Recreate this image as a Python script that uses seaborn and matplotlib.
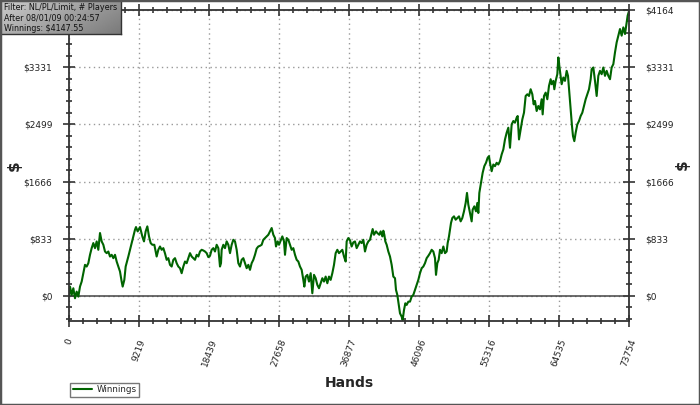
import numpy as np
import pandas as pd
import matplotlib
matplotlib.use("Agg")
import matplotlib.pyplot as plt
import seaborn as sns
from matplotlib.ticker import MultipleLocator, FixedLocator, FixedFormatter
from matplotlib.patches import Rectangle

# cumulative winnings (hands, dollars)
hands = [0, 132, 351, 571, 790, 1010, 1229, 1449, 1668, 1888, 2107, 2327, 2546, 2766, 2985,
         3205, 3424, 3644, 3863, 4083, 4302, 4522, 4741, 4961, 5180, 5400, 5619, 5839, 6058,
         6278, 6497, 6717, 6936, 7068, 7287, 7463, 7814, 8034, 8253, 8473, 8692, 8824, 9043,
         9350, 9657, 9877, 10096, 10316, 10535, 10755, 10974, 11238, 11545, 11765, 11985,
         12204, 12424, 12643, 12863, 13082, 13302, 13521, 13741, 13960, 14180, 14399, 14619,
         14838, 15058, 15277, 15497, 15716, 15936, 16155, 16375, 16594, 16814, 17033, 17253,
         17472, 17692, 17911, 18131, 18350, 18570, 18789, 19009, 19228, 19448, 19667, 19887,
         20018, 20106, 20326, 20545, 20765, 20984, 21204, 21423, 21643, 21862, 22082, 22301,
         22521, 22740, 22960, 23179, 23399, 23618, 23838, 24057, 24277, 24496, 24716, 24935,
         25155, 25374, 25594, 25813, 26033, 26252, 26472, 26691, 26911, 27130, 27262, 27485,
         27657, 27920, 28096, 28316, 28448, 28667, 28887, 29106, 29326, 29545, 29765, 29984,
         30204, 30423, 30643, 30862, 30994, 31170, 31389, 31608, 31828, 32047, 32267, 32486,
         32706, 32925, 33145, 33364, 33584, 33803, 34023, 34242, 34462, 34681, 34901, 35120,
         35340, 35559, 35779, 35998, 36218, 36437, 36569, 36788, 37008, 37227, 37447, 37666,
         37886, 38105, 38325, 38544, 38764, 38983, 39203, 39422, 39642, 39861, 39993, 40169,
         40432, 40608, 40871, 41047, 41267, 41398, 41530, 41662, 41837, 42057, 42276, 42496,
         42715, 42935, 43066, 43242, 43374, 43593, 43813, 43945, 44120, 44296, 44471, 44691,
         44910, 45130, 45349, 45569, 45788, 46008, 46227, 46447, 46666, 46885, 47105, 47325,
         47544, 47764, 47983, 48203, 48335, 48510, 48686, 48862, 49081, 49301, 49520, 49740,
         49871, 50046, 50309, 50485, 50705, 50924, 51144, 51363, 51583, 51802, 52022, 52241,
         52417, 52592, 52812, 53031, 53163, 53383, 53602, 53778, 53909, 54041, 54260, 54480,
         54699, 54919, 55138, 55314, 55446, 55665, 55885, 56104, 56324, 56543, 56763, 56982,
         57202, 57421, 57641, 57860, 58080, 58299, 58519, 58738, 58958, 59090, 59266, 59485,
         59705, 59924, 60144, 60363, 60583, 60802, 61022, 61197, 61373, 61592, 61812, 62031,
         62251, 62383, 62558, 62778, 62997, 63217, 63436, 63568, 63788, 63919, 64095, 64314,
         64446, 64578, 64753, 64885, 65105, 65324, 65544, 65719, 65895, 66070, 66246, 66378,
         66553, 66729, 66948, 67168, 67387, 67607, 67826, 68046, 68265, 68485, 68704, 68836,
         69056, 69275, 69495, 69714, 69934, 70153, 70373, 70592, 70812, 71031, 71251, 71470,
         71690, 71909, 72129, 72348, 72568, 72787, 73007, 73226, 73446, 73577, 73709, 73754]
winnings = [0, 136, 15, 112, -34, 63, -10, 136, 209, 331, 453, 428, 477, 599, 696,
            770, 696, 794, 672, 916, 794, 745, 647, 623, 647, 574, 599, 550, 599,
            501, 428, 355, 209, 136, 234, 428, 574, 672, 770, 867, 964, 1003, 940,
            1003, 867, 794, 940, 1013, 867, 770, 745, 745, 574, 672, 720,
            672, 696, 620, 526, 550, 453, 428, 526, 550, 477, 428, 404,
            331, 428, 501, 477, 550, 623, 574, 550, 526, 599, 574, 647,
            672, 662, 647, 623, 565, 584, 672, 696, 647, 745, 696, 428,
            477, 672, 745, 696, 794, 745, 623, 745, 818, 794, 672, 477,
            428, 526, 550, 477, 404, 453, 380, 477, 526, 600, 690, 720,
            730, 745, 818, 843, 867, 891, 940, 989, 891, 843, 720, 794,
            745, 818, 867, 794, 599, 843, 818, 745, 672, 696, 599, 526,
            501, 428, 380, 234, 136, 282, 307, 209, 331, 39, 307, 258,
            161, 112, 185, 258, 209, 282, 185, 282, 234, 331, 453, 623,
            672, 623, 647, 672, 574, 501, 794, 843, 810, 720, 780, 794,
            696, 745, 794, 770, 818, 647, 745, 794, 818, 916, 974, 891,
            940, 916, 891, 940, 867, 950, 891, 794, 745, 647, 574, 453,
            282, 258, 88, 15, -83, -253, -302, -351, -205, -107, -131, -83,
            -83, -10, 15, 88, 161, 234, 331, 404, 428, 477, 550, 584,
            623, 672, 647, 550, 307, 477, 526, 672, 623, 720, 623, 647,
            770, 867, 1062, 1135, 1159, 1110, 1135, 1159, 1086, 1135, 1232, 1354,
            1500, 1330, 1208, 1086, 1256, 1305, 1232, 1354, 1208, 1500, 1647, 1793,
            1890, 1939, 2012, 2036, 1939, 1816, 1914, 1890, 1939, 1914, 1962, 2060,
            2133, 2279, 2377, 2450, 2158, 2498, 2547, 2523, 2596, 2620, 2279, 2425,
            2571, 2669, 2912, 2937, 2912, 3010, 2937, 2790, 2839, 2693, 2766, 2717,
            2864, 2644, 2912, 2961, 2864, 3059, 3156, 3083, 3132, 3010, 3132, 3229,
            3473, 3351, 3205, 3083, 3181, 3132, 3278, 3205, 2961, 2717, 2474, 2328,
            2254, 2377, 2498, 2547, 2620, 2669, 2766, 2864, 2937, 3010, 3156, 3302,
            3327, 3132, 2912, 3205, 3278, 3229, 3327, 3205, 3278, 3205, 3156, 3327,
            3375, 3546, 3692, 3790, 3887, 3790, 3911, 3814, 3985, 4082, 4131, 4148]

x_tick_labels = ['0', '9219', '18439', '27658', '36877', '46096', '55316', '64535', '73754']
y_tick_labels = ['$0', '$833', '$1666', '$2499', '$3331', '$4164']
info_lines = ['Filter: NL/PL/Limit, # Players', 'After 08/01/09 00:24:57', 'Winnings: $4147.55']

df = pd.DataFrame({'Hands': hands, 'Winnings': winnings})

sns.set_style('white')
plt.rcParams['font.family'] = ['DejaVu Sans']

fig = plt.figure(figsize=(7, 4.05), dpi=100)
ax = fig.add_axes([69 / 700, 1 - 321 / 405, 560 / 700, 311 / 405])

sns.lineplot(data=df, x='Hands', y='Winnings', ax=ax, color='#006400', linewidth=1.5,
             estimator=None, sort=False, label='Winnings', legend=False)

xmax = 73754
ymax = 4164
ax.set_xlim(0, xmax)
ax.set_ylim(-365, ymax)

ax.xaxis.set_major_locator(FixedLocator(np.linspace(0, xmax, 9)))
ax.xaxis.set_major_formatter(FixedFormatter(x_tick_labels))
ax.xaxis.set_minor_locator(MultipleLocator(xmax / 40))
ax.yaxis.set_major_locator(FixedLocator(np.linspace(0, ymax, 6)))
ax.yaxis.set_major_formatter(FixedFormatter(y_tick_labels))
ax.yaxis.set_minor_locator(MultipleLocator(ymax / 25))

ax.tick_params(which='both', direction='inout', color='#333333', width=1.2,
               top=True, right=True, bottom=True, left=True,
               labelright=True, labelleft=True, labeltop=False)
ax.tick_params(which='major', length=8, labelsize=6.5, pad=8, labelcolor='#222222')
ax.tick_params(which='minor', length=5)
plt.setp(ax.get_xticklabels(), rotation=70, ha='center')

# the left top label sits under the info box in the original, so it is not shown
ax.yaxis.get_major_ticks()[-1].label1.set_visible(False)

for s in ax.spines.values():
    s.set_color('#333333')
    s.set_linewidth(1.3)

ax.grid(True, which='major', color='#999999', linestyle=(0, (1, 2.5)), linewidth=1)
ax.axhline(0, color='#444444', linewidth=1.1, zorder=1)

ax.set_xlabel('Hands', fontsize=10, fontweight='bold', labelpad=6)
ax.set_ylabel('$', fontsize=11, fontweight='bold', labelpad=10)
ax.yaxis.set_label_coords(-0.085, 0.5)
fig.text(682 / 700, 1 - 165 / 405, '$', fontsize=11, fontweight='bold', rotation=90,
         ha='center', va='center')

# legend box at the bottom left
leg = fig.legend(*ax.get_legend_handles_labels(), loc='lower left',
                 bbox_to_anchor=(70 / 700, 1 - 397 / 405), fontsize=6.3, frameon=True,
                 fancybox=False, shadow=False, handlelength=2.2, borderpad=0.3,
                 handletextpad=0.5, borderaxespad=0)
leg.get_frame().set_edgecolor('#555555')
leg.get_frame().set_linewidth(1.0)

# gray info box top left
info_ax = fig.add_axes([0, 1 - 34 / 405, 121 / 700, 34 / 405])
grad = 0.80 - np.linspace(0, 1, 100)[None, :] * 0.22 - np.linspace(0, 1, 20)[:, None] * 0.10
info_ax.imshow(grad, aspect='auto', cmap='gray', vmin=0, vmax=1, extent=(0, 1, 0, 1))
info_ax.set_xticks([])
info_ax.set_yticks([])
for s in info_ax.spines.values():
    s.set_color('#333333')
    s.set_linewidth(1.0)
for i, line in enumerate(info_lines):
    info_ax.text(0.035, 0.78 - i * 0.31, line, fontsize=5.8, color='#111111',
                 va='center', ha='left', transform=info_ax.transAxes)

fig.patches.append(Rectangle((0, 0), 1, 1, transform=fig.transFigure, fill=False,
                             edgecolor='#555555', linewidth=2.5))

fig.savefig('out.png', dpi=100)
